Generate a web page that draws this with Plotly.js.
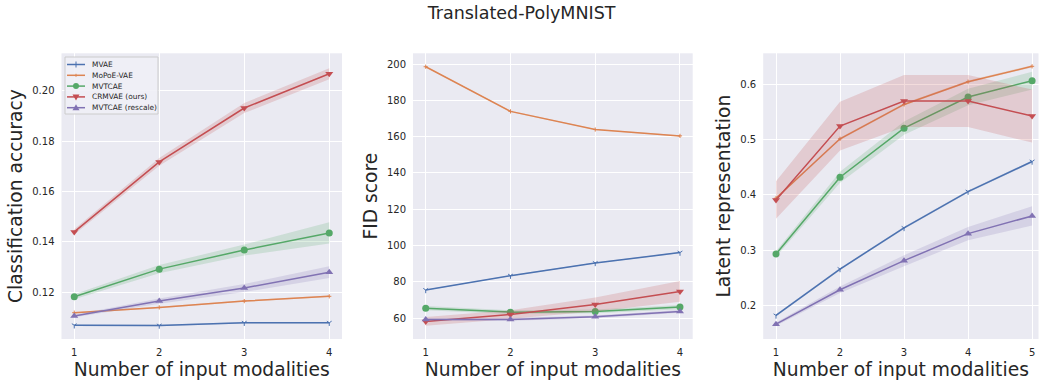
<!DOCTYPE html>
<html><head><meta charset="utf-8">
<script src="https://cdn.plot.ly/plotly-3.0.1.min.js"></script>
<style>html,body{margin:0;padding:0;overflow:hidden;background:#fff}</style>
</head><body><div id="chart" style="width:1039px;height:381px"></div>
<script>
// ---------- data ----------
const methods = ['MVAE', 'MoPoE-VAE', 'MVTCAE', 'CRMVAE (ours)', 'MVTCAE (rescale)'];
const colors = ['#4C72B0', '#DD8452', '#55A868', '#C44E52', '#8172B3'];
const modalities4 = [1, 2, 3, 4];
const modalities5 = [1, 2, 3, 4, 5];

// Classification accuracy (mean, std)
const accMVAE = [0.1068, 0.1067, 0.1078, 0.1078];
const accMoPoE = [0.1118, 0.1139, 0.1164, 0.1183];
const accMVTCAE = [0.1181, 0.1291, 0.1367, 0.1435];
const accCRMVAE = [0.1439, 0.1717, 0.1931, 0.2067];
const accRescale = [0.1105, 0.1164, 0.1216, 0.1279];
const accMVAEStd = [0.0003, 0.0003, 0.0003, 0.0003];
const accMoPoEStd = [0.0003, 0.0003, 0.0003, 0.0003];
const accMVTCAEStd = [0.0010, 0.0016, 0.0022, 0.0042];
const accCRMVAEStd = [0.0010, 0.0015, 0.0020, 0.0022];
const accRescaleStd = [0.0005, 0.0010, 0.0016, 0.0023];

// FID score
const fidMVAE = [75.5, 83.4, 90.4, 96.1];
const fidMoPoE = [198.5, 173.9, 163.9, 160.4];
const fidMVTCAE = [65.5, 63.3, 63.7, 66.1];
const fidCRMVAE = [58.2, 62.0, 67.5, 74.7];
const fidRescale = [59.3, 59.3, 60.7, 63.7];
const fidMVAEStd = [0.3, 0.3, 0.3, 0.3];
const fidMoPoEStd = [0.3, 0.3, 0.3, 0.3];
const fidMVTCAEStd = [1.2, 1.0, 1.0, 1.2];
const fidCRMVAEStd = [2.4, 2.4, 3.9, 5.7];
const fidRescaleStd = [0.8, 0.8, 0.8, 0.8];

// Latent representation
const latMVAE = [0.1819, 0.2659, 0.3402, 0.4060, 0.4604];
const latMoPoE = [0.3940, 0.5015, 0.5637, 0.6048, 0.6326];
const latMVTCAE = [0.2931, 0.4320, 0.5208, 0.5770, 0.6066];
const latCRMVAE = [0.3909, 0.5245, 0.5698, 0.5698, 0.5426];
const latRescale = [0.1662, 0.2284, 0.2810, 0.3299, 0.3620];
const latMVAEStd = [0.002, 0.002, 0.002, 0.002, 0.002];
const latMoPoEStd = [0.002, 0.002, 0.002, 0.002, 0.002];
const latMVTCAEStd = [0.005, 0.010, 0.012, 0.015, 0.016];
const latCRMVAEStd = [0.034, 0.044, 0.047, 0.047, 0.048];
const latRescaleStd = [0.003, 0.006, 0.010, 0.012, 0.0175];

const accTicks = [0.12, 0.14, 0.16, 0.18, 0.20];
const fidTicks = [60, 80, 100, 120, 140, 160, 180, 200];
const latTicks = [0.2, 0.3, 0.4, 0.5, 0.6];

// ---------- styling ----------
const W = 1039, H = 381;
const fillColors = ['rgba(76,114,176,0.2)', 'rgba(221,132,82,0.2)', 'rgba(85,168,104,0.2)', 'rgba(196,78,82,0.2)', 'rgba(129,114,179,0.2)'];
const symbols = ['y-down', 'cross-thin', 'circle', 'triangle-down', 'triangle-up'];
const msizes = [4, 3, 7, 7, 7];
const FONT = 'DejaVu Sans, Liberation Sans, sans-serif';
const TXT = '#262626';

const panels = [
  {x: modalities4, means: [accMVAE, accMoPoE, accMVTCAE, accCRMVAE, accRescale],
   stds: [accMVAEStd, accMoPoEStd, accMVTCAEStd, accCRMVAEStd, accRescaleStd], ax: ''},
  {x: modalities4, means: [fidMVAE, fidMoPoE, fidMVTCAE, fidCRMVAE, fidRescale],
   stds: [fidMVAEStd, fidMoPoEStd, fidMVTCAEStd, fidCRMVAEStd, fidRescaleStd], ax: '2'},
  {x: modalities5, means: [latMVAE, latMoPoE, latMVTCAE, latCRMVAE, latRescale],
   stds: [latMVAEStd, latMoPoEStd, latMVTCAEStd, latCRMVAEStd, latRescaleStd], ax: '3'}
];

const traces = [];
panels.forEach(p => {
  p.means.forEach((m, i) => {
    const up = m.map((v, k) => v + p.stds[i][k]);
    const lo = m.map((v, k) => v - p.stds[i][k]);
    traces.push({
      x: p.x.concat(p.x.slice().reverse()),
      y: up.concat(lo.slice().reverse()),
      xaxis: 'x' + p.ax, yaxis: 'y' + p.ax,
      type: 'scatter', mode: 'lines', fill: 'toself',
      fillcolor: fillColors[i], line: {width: 0, color: 'rgba(0,0,0,0)'},
      hoverinfo: 'skip', showlegend: false
    });
    const isLineSym = i < 2;
    traces.push({
      x: p.x, y: m, xaxis: 'x' + p.ax, yaxis: 'y' + p.ax,
      type: 'scatter', mode: 'lines+markers', name: methods[i],
      line: {color: colors[i], width: 1.5},
      marker: {symbol: symbols[i], size: msizes[i], color: colors[i],
               line: {width: isLineSym ? 1 : 0, color: colors[i]}},
      showlegend: false
    });
  });
});

const yDom = [1 - 339 / H, 1 - 53.3 / H];
function xax(dom, range) {
  return {
    domain: dom, range: range, dtick: 1, tick0: 1, ticks: '', showline: false, zeroline: false,
    gridcolor: '#ffffff', gridwidth: 1, tickfont: {family: FONT, size: 10, color: TXT},
    ticklabelstandoff: 6, automargin: false,
    title: {text: 'Number of input modalities', font: {family: FONT, size: 18.7, color: TXT}, standoff: 5}
  };
}
function yax(range, ticks, fmt, title, anchor) {
  return {
    domain: yDom, range: range, tickvals: ticks, tickformat: fmt, ticks: '', showline: false,
    zeroline: false, gridcolor: '#ffffff', gridwidth: 1, anchor: anchor,
    tickfont: {family: FONT, size: 10, color: TXT}, ticklabelstandoff: 6, automargin: false,
    title: {text: title, font: {family: FONT, size: 18.7, color: TXT}, standoff: 4}
  };
}

// ---------- custom compact legend ----------
const px = v => v / W, py = v => 1 - v / H;
const shapes = [];
const annotations = [];
const lgX0 = 65, lgX1 = 158, lgY0 = 57, lgY1 = 114;
shapes.push({type: 'rect', xref: 'paper', yref: 'paper', x0: px(lgX0), x1: px(lgX1), y0: py(lgY0), y1: py(lgY1),
  fillcolor: 'rgba(240,240,246,0.9)', line: {color: '#cccccc', width: 1}, layer: 'above'});
methods.forEach((name, i) => {
  const cy = 64.5 + 10.8 * i, cx = 76;
  shapes.push({type: 'line', xref: 'paper', yref: 'paper', x0: px(67), x1: px(85), y0: py(cy), y1: py(cy),
    line: {color: colors[i], width: 1.5}, layer: 'above'});
  let path = null;
  if (symbols[i] === 'circle') {
    shapes.push({type: 'circle', xref: 'paper', yref: 'paper', x0: px(cx - 3), x1: px(cx + 3), y0: py(cy - 3), y1: py(cy + 3),
      fillcolor: colors[i], line: {width: 0}, layer: 'above'});
  } else if (symbols[i] === 'triangle-down') {
    path = `M${px(cx - 3.5)},${py(cy - 2.5)} L${px(cx + 3.5)},${py(cy - 2.5)} L${px(cx)},${py(cy + 3.5)} Z`;
    shapes.push({type: 'path', xref: 'paper', yref: 'paper', path: path, fillcolor: colors[i], line: {width: 0}, layer: 'above'});
  } else if (symbols[i] === 'triangle-up') {
    path = `M${px(cx - 3.5)},${py(cy + 2.5)} L${px(cx + 3.5)},${py(cy + 2.5)} L${px(cx)},${py(cy - 3.5)} Z`;
    shapes.push({type: 'path', xref: 'paper', yref: 'paper', path: path, fillcolor: colors[i], line: {width: 0}, layer: 'above'});
  } else if (symbols[i] === 'y-down') {
    path = `M${px(cx)},${py(cy - 3)} L${px(cx)},${py(cy + 3)}`;
    shapes.push({type: 'path', xref: 'paper', yref: 'paper', path: path, line: {color: colors[i], width: 1}, layer: 'above'});
  } else {
    path = `M${px(cx)},${py(cy - 1.5)} L${px(cx)},${py(cy + 1.5)}`;
    shapes.push({type: 'path', xref: 'paper', yref: 'paper', path: path, line: {color: colors[i], width: 1}, layer: 'above'});
  }
  annotations.push({xref: 'paper', yref: 'paper', x: px(90), y: py(cy), xanchor: 'left', yanchor: 'middle',
    text: name, showarrow: false, font: {family: FONT, size: 7.4, color: TXT}});
});

const layout = {
  width: W, height: H, margin: {l: 0, r: 0, t: 0, b: 0},
  paper_bgcolor: '#ffffff', plot_bgcolor: '#EAEAF2', showlegend: false,
  font: {family: FONT, color: TXT},
  title: {text: 'Translated-PolyMNIST', font: {family: FONT, size: 17.5, color: TXT},
          x: 0.502, xanchor: 'center', y: 1 - 12.5 / H, yanchor: 'middle'},
  xaxis: Object.assign(xax([61.5 / W, 342 / W], [0.85, 4.15]), {anchor: 'y'}),
  yaxis: yax([0.10135, 0.21484], accTicks, '.2f', 'Classification accuracy', 'x'),
  xaxis2: Object.assign(xax([413 / W, 692.7 / W], [0.85, 4.15]), {anchor: 'y2'}),
  yaxis2: yax([48.5, 205.9], fidTicks, 'd', 'FID score', 'x2'),
  xaxis3: Object.assign(xax([763.2 / W, 1038.5 / W], [0.8, 5.1]), {anchor: 'y3'}),
  yaxis3: yax([0.1393, 0.6562], latTicks, '.1f', 'Latent representation', 'x3'),
  shapes: shapes, annotations: annotations
};

Plotly.newPlot('chart', traces, layout, {displayModeBar: false, staticPlot: true});
</script></body></html>
